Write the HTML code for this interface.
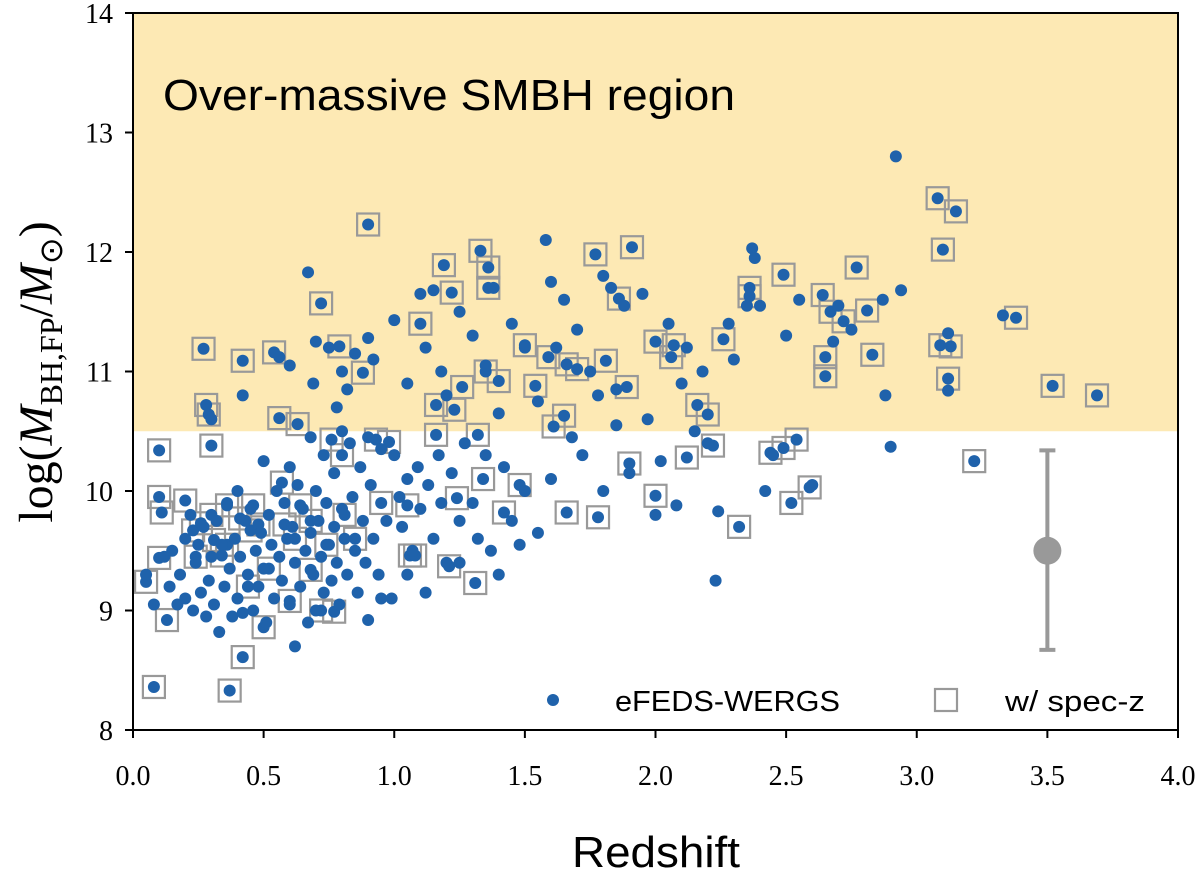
<!DOCTYPE html>
<html><head><meta charset="utf-8"><style>
html,body{margin:0;padding:0;background:#fff;}
svg{display:block;}
</style></head><body>
<svg id="chart" width="1200" height="876" viewBox="0 0 1200 876" xmlns="http://www.w3.org/2000/svg">
<rect id="region" fill="#fde9b4"/>
<text x="163" y="110" font-family="Liberation Sans, sans-serif" font-size="44" textLength="572" lengthAdjust="spacingAndGlyphs" fill="#000">Over-massive SMBH region</text>
<g id="boxes"></g>
<g id="dots"></g>
<g id="errbar"></g>
<g id="axes"></g>
<g>
<circle cx="553" cy="700" r="6" fill="#1f62ab"/>
<text x="615" y="711" font-family="Liberation Sans, sans-serif" font-size="29" textLength="225" lengthAdjust="spacingAndGlyphs">eFEDS-WERGS</text>
<rect x="935" y="689" width="22" height="22" fill="none" stroke="#999" stroke-width="2.2"/>
<text x="1005" y="711" font-family="Liberation Sans, sans-serif" font-size="29" textLength="140" lengthAdjust="spacingAndGlyphs">w/ spec-z</text>
</g>
<text x="656" y="867" text-anchor="middle" font-family="Liberation Sans, sans-serif" font-size="44" textLength="168" lengthAdjust="spacingAndGlyphs">Redshift</text>
<text transform="translate(52,372) rotate(-90)" text-anchor="middle" font-family="Liberation Serif, serif" font-size="48">log(<tspan font-style="italic">M</tspan><tspan font-size="32" dy="10">BH,FP</tspan><tspan dy="-10">/</tspan><tspan font-style="italic">M</tspan><tspan font-size="32" dy="10">⊙</tspan><tspan dy="-10">)</tspan></text>
</svg>
<script>
const xTicks=[0,0.5,1,1.5,2,2.5,3,3.5,4];
const xTickLabels=["0.0","0.5","1.0","1.5","2.0","2.5","3.0","3.5","4.0"];
const yTicks=[8,9,10,11,12,13,14];
const yTickLabels=["8","9","10","11","12","13","14"];
const regionThreshold=10.5;
const errCenter=[3.5,9.5];
const errRange=[8.67,10.34];
const specZ=[[0.05,9.24],[0.08,8.36],[0.10,10.34],[0.10,9.95],[0.11,9.82],[0.13,8.92],[0.10,9.44],[0.20,9.92],[0.23,9.67],[0.26,9.73],[0.27,11.19],[0.28,10.72],[0.29,10.64],[0.30,10.38],[0.30,9.80],[0.31,9.59],[0.34,9.46],[0.37,8.33],[0.36,9.88],[0.41,9.77],[0.42,11.09],[0.42,8.61],[0.45,9.67],[0.46,9.88],[0.48,9.72],[0.50,8.86],[0.54,11.16],[0.56,10.61],[0.57,10.07],[0.58,9.72],[0.63,10.56],[0.64,9.88],[0.68,9.34],[0.72,11.57],[0.72,9.0],[0.77,8.99],[0.76,10.43],[0.79,11.21],[0.80,10.3],[0.81,9.8],[0.88,10.99],[0.90,12.23],[0.93,10.43],[0.98,10.41],[1.05,9.88],[1.06,9.46],[1.08,9.46],[1.10,11.40],[1.16,10.47],[1.16,10.72],[1.19,11.89],[1.22,11.66],[1.23,10.68],[1.24,9.94],[1.21,9.37],[1.26,10.87],[1.31,9.23],[1.33,12.01],[1.32,10.47],[1.34,10.1],[1.36,11.87],[1.36,11.70],[1.35,11.0],[1.40,10.92],[1.42,9.82],[1.48,10.05],[1.50,11.22],[1.54,10.88],[1.59,11.12],[1.61,10.54],[1.65,10.63],[1.66,9.82],[1.66,11.06],[1.70,11.02],[1.77,11.98],[1.78,9.78],[1.81,11.09],[1.86,11.61],[1.89,10.87],[1.90,10.23],[1.91,12.04],[2.0,11.25],[2.0,9.96],[2.06,11.12],[2.07,11.22],[2.12,10.28],[2.16,10.72],[2.20,10.64],[2.22,10.38],[2.26,11.27],[2.32,9.70],[2.36,11.70],[2.36,11.63],[2.44,10.32],[2.49,10.36],[2.54,10.43],[2.52,9.90],[2.59,10.03],[2.49,11.81],[2.64,11.64],[2.67,11.50],[2.65,11.12],[2.65,10.96],[2.72,11.42],[2.77,11.87],[2.81,11.51],[2.83,11.14],[3.08,12.45],[3.15,12.34],[3.10,12.02],[3.09,11.22],[3.13,11.21],[3.12,10.94],[3.22,10.25],[3.38,11.45],[3.52,10.88],[3.69,10.80],[0.36,9.55],[0.52,9.35],[0.62,9.6],[0.74,9.55],[0.85,9.6],[0.95,9.9],[0.6,9.08],[0.44,9.2],[0.24,9.45],[0.68,9.75]];
const dotsOnly=[[0.05,9.3],[0.08,9.05],[0.12,9.45],[0.14,9.2],[0.15,9.5],[0.17,9.05],[0.18,9.3],[0.2,9.1],[0.2,9.6],[0.22,9.8],[0.23,9.0],[0.24,9.4],[0.25,9.55],[0.26,9.15],[0.27,9.7],[0.28,8.95],[0.29,9.25],[0.3,9.45],[0.31,9.05],[0.32,9.75],[0.33,8.82],[0.34,9.55],[0.35,9.2],[0.36,9.9],[0.37,9.35],[0.38,8.95],[0.39,9.6],[0.4,10.0],[0.4,9.1],[0.41,9.45],[0.42,8.98],[0.43,9.75],[0.44,9.3],[0.45,9.85],[0.46,9.0],[0.47,9.5],[0.48,9.2],[0.49,9.65],[0.5,10.25],[0.5,9.35],[0.51,8.9],[0.52,9.8],[0.53,9.55],[0.54,9.1],[0.55,10.0],[0.56,9.45],[0.57,9.25],[0.58,9.9],[0.59,9.6],[0.6,10.2],[0.6,9.05],[0.61,9.7],[0.62,8.7],[0.62,9.4],[0.63,10.05],[0.64,9.2],[0.65,9.85],[0.66,9.5],[0.67,8.9],[0.68,10.45],[0.68,9.65],[0.69,9.3],[0.7,10.0],[0.7,9.0],[0.71,9.75],[0.72,9.45],[0.73,10.3],[0.73,9.15],[0.74,9.9],[0.75,9.55],[0.76,9.25],[0.77,10.15],[0.77,9.7],[0.78,9.4],[0.79,9.05],[0.8,10.5],[0.8,9.85],[0.81,9.6],[0.82,9.3],[0.83,10.4],[0.84,9.95],[0.85,9.5],[0.86,9.15],[0.87,10.2],[0.88,9.75],[0.89,9.4],[0.9,10.45],[0.9,8.92],[0.91,10.05],[0.92,9.6],[0.94,9.3],[0.95,10.35],[0.97,9.75],[0.99,9.1],[1.0,10.3],[1.02,9.95],[1.03,9.7],[1.05,10.1],[1.07,9.5],[1.09,10.2],[1.1,9.85],[1.12,9.15],[1.13,10.05],[1.15,9.6],[1.17,10.3],[1.18,9.9],[1.2,9.4],[1.22,10.15],[1.25,9.75],[1.27,10.4],[1.3,9.9],[1.32,9.6],[1.35,10.3],[1.37,9.5],[1.4,9.3],[1.42,10.2],[1.45,9.75],[1.48,9.55],[1.5,10.0],[1.55,9.65],[0.3,10.6],[0.42,10.8],[0.56,11.12],[0.6,11.05],[0.67,11.83],[0.69,10.9],[0.7,11.25],[0.75,11.2],[0.78,10.7],[0.8,11.0],[0.82,10.85],[0.85,11.15],[0.9,11.28],[0.92,11.1],[1.0,11.43],[1.05,10.9],[1.1,11.65],[1.12,11.2],[1.15,11.68],[1.18,11.0],[1.2,10.8],[1.25,11.5],[1.3,11.3],[1.35,11.05],[1.38,11.7],[1.4,10.65],[1.45,11.4],[1.5,11.2],[1.55,10.75],[1.58,12.1],[1.6,11.75],[1.62,11.2],[1.65,11.6],[1.68,10.45],[1.7,11.35],[1.75,11.0],[1.78,10.8],[1.8,11.8],[1.83,11.7],[1.85,10.85],[1.88,11.55],[1.95,11.65],[1.97,10.6],[2.0,9.8],[2.02,10.25],[2.05,11.4],[2.08,9.88],[2.1,10.9],[2.12,11.2],[2.15,10.5],[2.18,11.0],[2.2,10.4],[2.23,9.25],[2.24,9.83],[2.28,11.4],[2.3,11.1],[2.35,11.55],[2.37,12.03],[2.38,11.95],[2.4,11.55],[2.42,10.0],[2.45,10.3],[2.5,11.3],[2.55,11.6],[2.6,10.05],[2.68,11.25],[2.7,11.55],[2.75,11.35],[2.87,11.6],[2.88,10.8],[2.9,10.37],[2.92,12.8],[2.94,11.68],[3.12,11.32],[3.12,10.84],[3.33,11.47],[1.6,10.1],[1.72,10.3],[1.8,10.0],[1.85,10.55],[1.9,10.15],[1.25,9.4],[1.05,9.3],[0.95,9.1]];

const NS='http://www.w3.org/2000/svg';
const X0=133,X1=1178,Y0=730,Y1=13;
const xs=v=>X0+(v-0)/(4-0)*(X1-X0);
const ys=v=>Y0-(v-8)/(14-8)*(Y0-Y1);
function mk(tag,attrs,parent){const e=document.createElementNS(NS,tag);for(const k in attrs)e.setAttribute(k,attrs[k]);parent.appendChild(e);return e;}

const reg=document.getElementById('region');
reg.setAttribute('x',X0);reg.setAttribute('y',Y1);reg.setAttribute('width',X1-X0);reg.setAttribute('height',ys(regionThreshold)-Y1);

const gb=document.getElementById('boxes'),gd=document.getElementById('dots');
specZ.forEach(p=>{
  const r=mk('rect',{x:xs(p[0])-11,y:ys(p[1])-11,width:22,height:22,fill:'none',stroke:'#999','stroke-width':2.2},gb);
  
  
});
specZ.concat(dotsOnly).forEach(p=>{
  const c=mk('circle',{cx:xs(p[0]),cy:ys(p[1]),r:6,fill:'#1f62ab'},gd);
  
  
});

const ge=document.getElementById('errbar');
const ex=xs(errCenter[0]);
const el=mk('line',{x1:ex,x2:ex,y1:ys(errRange[0]),y2:ys(errRange[1]),stroke:'#999','stroke-width':4},ge);


[errRange[0],errRange[1]].forEach(v=>{
  const cap=mk('line',{x1:ex-8,x2:ex+8,y1:ys(v),y2:ys(v),stroke:'#999','stroke-width':4},ge);
  
  
});
const ec=mk('circle',{cx:ex,cy:ys(errCenter[1]),r:14,fill:'#999'},ge);



const ga=document.getElementById('axes');
const fr=mk('rect',{x:X0,y:Y1,width:X1-X0,height:Y0-Y1,fill:'none',stroke:'#000','stroke-width':2},ga);


const TF='Liberation Serif, DejaVu Serif, serif';
xTicks.forEach((v,i)=>{
  const t=mk('line',{x1:xs(v),x2:xs(v),y1:Y0,y2:Y0+8,stroke:'#000','stroke-width':2},ga);
  
  
  const l=mk('text',{x:xs(v),y:Y0+55,'text-anchor':'middle','font-family':TF,'font-size':28},ga);
  
  
  l.textContent=xTickLabels[i];
});
yTicks.forEach((v,i)=>{
  const t=mk('line',{x1:X0-8,x2:X0,y1:ys(v),y2:ys(v),stroke:'#000','stroke-width':2},ga);
  
  
  const l=mk('text',{x:X0-20,y:ys(v)+10,'text-anchor':'end','font-family':TF,'font-size':28},ga);
  
  
  l.textContent=yTickLabels[i];
});
</script>
</body></html>
